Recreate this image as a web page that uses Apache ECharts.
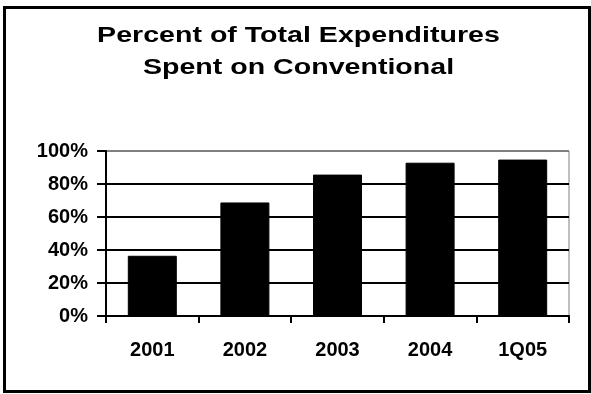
<!DOCTYPE html>
<html>
<head>
<meta charset="utf-8">
<script src="https://cdn.jsdelivr.net/npm/echarts@6/dist/echarts.min.js"></script>
<style>
  html, body { margin: 0; padding: 0; background: #fff; }
  #chart { width: 591px; height: 394px; }
</style>
</head>
<body>
<div id="chart"></div>
<script>
const categories = ['2001', '2002', '2003', '2004', '1Q05'];
const percentSpent = [36.5, 68.8, 85.7, 92.9, 94.8];
const yTicks = [0, 20, 40, 60, 80, 100];
const titleLines = ['Percent of Total Expenditures', 'Spent on Conventional'];

const FONT = 'Liberation Sans, Arial, sans-serif';
const chart = echarts.init(document.getElementById('chart'), null, { renderer: 'canvas' });

// title is drawn as graphic text so it can be stretched like the original
const titleStyle = { fill: '#000', font: 'bold 22.5px ' + FONT, textAlign: 'center', textVerticalAlign: 'middle' };

const option = {
  animation: false,
  backgroundColor: '#fff',
  textStyle: { fontFamily: FONT },
  graphic: [
    {
      type: 'text', x: 298.5, y: 35.5, scaleX: 1.27,
      style: Object.assign({ text: titleLines[0], x: 0, y: 0 }, titleStyle)
    },
    {
      type: 'text', x: 298.5, y: 68, scaleX: 1.27,
      style: Object.assign({ text: titleLines[1], x: 0, y: 0 }, titleStyle)
    },
    {
      type: 'rect',
      shape: { x: 4.5, y: 7.5, width: 585, height: 384 },
      style: { fill: 'none', stroke: '#000', lineWidth: 3 },
      z: 100
    }
  ],
  grid: {
    left: 106,
    right: 22,
    top: 151,
    bottom: 78,
    show: true,
    borderColor: '#808080',
    borderWidth: 1,
    backgroundColor: '#fff'
  },
  xAxis: {
    type: 'category',
    data: categories,
    axisLine: { lineStyle: { color: '#000', width: 2 } },
    axisTick: { show: true, length: 7, lineStyle: { color: '#000', width: 2 } },
    axisLabel: {
      color: '#000',
      fontSize: 20,
      fontWeight: 'bold',
      margin: 24
    }
  },
  yAxis: {
    type: 'value',
    min: 0,
    max: 100,
    interval: 20,
    axisLine: { show: true, lineStyle: { color: '#000', width: 2 } },
    axisTick: { show: true, length: 9, lineStyle: { color: '#000', width: 2 } },
    axisLabel: {
      color: '#000',
      fontSize: 20,
      fontWeight: 'bold',
      margin: 18,
      formatter: v => (yTicks.includes(v) ? v + '%' : '')
    },
    splitLine: {
      show: true,
      lineStyle: {
        color: ['#000', '#000', '#000', '#000', '#000', '#808080'],
        width: 2
      }
    }
  },
  series: [{
    name: 'Percent',
    type: 'bar',
    data: percentSpent,
    barWidth: 49,
    itemStyle: { color: '#000', borderColor: '#000', borderWidth: 1 }
  }]
};

chart.setOption(option);
</script>
</body>
</html>
